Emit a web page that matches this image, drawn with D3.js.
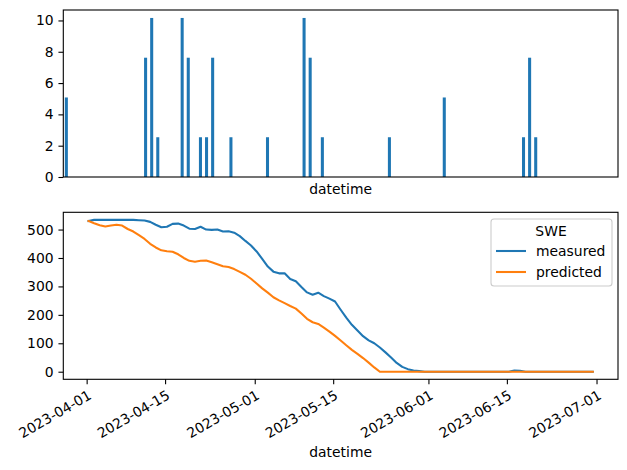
<!DOCTYPE html>
<html lang="en">
  <head>
    <meta charset="utf-8">
    <title>SWE</title>
    <script src="https://d3js.org/d3.v7.js"></script>
    <style>
      body { margin: 0; background: #fff; }
      text { font-family: "DejaVu Sans", sans-serif; font-size: 13.9px; fill: #000; }
    </style>
  </head>
  <body>
    <script>

  // width and height
  var w = 627;
  var h = 470;
  var dayMs = 864e5;

  // daily index, 2023-04-01 .. 2023-06-30 (stamped 08:00 UTC)
  var start = new Date(Date.UTC(2023, 3, 1, 8));
  var dates = d3.range(91).map(i => new Date(+start + i * dayMs));

  // precipitation (top bars)
  var precip = [
    5.08, 0, 0, 0, 0, 0, 0, 0, 0, 0,
    0, 0, 0, 7.62, 10.16, 2.54, 0, 0, 0, 10.16,
    7.62, 0, 2.54, 2.54, 7.62, 0, 0, 2.54, 0, 0,
    0, 0, 0, 2.54, 0, 0, 0, 0, 0, 10.16,
    7.62, 0, 2.54, 0, 0, 0, 0, 0, 0, 0,
    0, 0, 0, 2.54, 0, 0, 0, 0, 0, 0,
    0, 0, 5.08, 0, 0, 0, 0, 0, 0, 0,
    0, 0, 0, 0, 0, 2.54, 7.62, 2.54, 0, 0,
    0, 0, 0, 0, 0, 0, 0, 0, 0, 0,
    0
  ];

  // SWE series
  var measured = [
    530, 534, 534, 534, 534, 534, 534, 534, 534, 533,
    532, 527, 517, 508, 510, 520, 521, 514, 503, 502,
    510, 500, 499, 500, 493, 494, 489, 477, 460, 444,
    423, 397, 370, 352, 346, 346, 326, 318, 298, 279,
    271, 278, 266, 257, 247, 218, 190, 165, 145, 125,
    110, 100, 85, 68, 50, 31, 17, 9, 4, 2,
    0, 0, 0, 0, 0, 0, 0, 0, 0, 0,
    0, 0, 0, 0, 0, 0, 4, 3, 0, 0,
    0, 0, 0, 0, 0, 0, 0, 0, 0, 0,
    0
  ];
  var predicted = [
    530, 522, 515, 511, 514, 517, 514, 502, 493, 480,
    467, 450, 437, 427, 424, 422, 413, 400, 390, 387,
    390, 391, 385, 378, 371, 368, 361, 351, 341, 327,
    310, 293, 278, 262, 251, 241, 231, 222, 205, 186,
    174, 168, 155, 141, 126, 110, 93, 77, 63, 48,
    32, 15, 0, 0, 0, 0, 0, 0, 0, 0,
    0, 0, 0, 0, 0, 0, 0, 0, 0, 0,
    0, 0, 0, 0, 0, 0, 0, 0, 0, 0,
    0, 0, 0, 0, 0, 0, 0, 0, 0, 0,
    0
  ];

  var seriesNames = ["measured", "predicted"];
  var colors = ["#1f77b4", "#ff7f0e"];
  var precipTicks = [0, 2, 4, 6, 8, 10];
  var sweTicks = [0, 100, 200, 300, 400, 500];
  var dateTicks = ["2023-04-01", "2023-04-15", "2023-05-01", "2023-05-15",
                   "2023-06-01", "2023-06-15", "2023-07-01"];

  // axes boxes
  var left = 63.3, right = 618;
  var top1 = 10, bot1 = 177;
  var top2 = 212.3, bot2 = 379.3;
  var tickLen = 4.86, pad = 4.86;

  var svg = d3.select("body")
    .append("svg")
    .attr("width", w)
    .attr("height", h);

  // ---------- top: bars ----------
  var xBand = d3.scaleBand()
    .domain(d3.range(dates.length))
    .range([left, right])
    .paddingInner(0.5)
    .paddingOuter(0.25);

  var pMax = d3.max(precip);
  var yP = d3.scaleLinear()
    .domain([0, pMax * 1.05])
    .range([bot1, top1]);

  svg.append("g")
    .selectAll("rect")
    .data(precip)
    .enter()
    .append("rect")
    .attr("x", (d, i) => xBand(i))
    .attr("y", d => yP(d))
    .attr("width", xBand.bandwidth())
    .attr("height", d => yP(0) - yP(d))
    .attr("fill", colors[0]);

  svg.append("g")
    .attr("transform", "translate(" + left + ",0)")
    .call(d3.axisLeft(yP).tickValues(precipTicks).tickSize(tickLen).tickPadding(pad));

  svg.append("rect")
    .attr("x", left).attr("y", top1)
    .attr("width", right - left).attr("height", bot1 - top1)
    .attr("fill", "none").attr("stroke", "#000").attr("stroke-width", 1.1);

  svg.append("text")
    .attr("x", (left + right) / 2)
    .attr("y", 194)
    .attr("text-anchor", "middle")
    .text("datetime");

  // ---------- bottom: lines ----------
  var x = d3.scaleUtc()
    .domain([new Date(+dates[0] - 4.5 * dayMs), new Date(+dates[dates.length - 1] + 4.5 * dayMs)])
    .range([left, right]);

  var allVals = measured.concat(predicted);
  var lo = d3.min(allVals), hi = d3.max(allVals);
  var m = (hi - lo) * 0.05;
  var y = d3.scaleLinear()
    .domain([lo - m, hi + m])
    .range([bot2, top2]);

  var line = d3.line()
    .x((d, i) => x(dates[i]))
    .y(d => y(d));

  [measured, predicted].forEach(function (s, k) {
    svg.append("path")
      .datum(s)
      .attr("d", line)
      .attr("fill", "none")
      .attr("stroke", colors[k])
      .attr("stroke-width", 2.08)
      .attr("stroke-linejoin", "round")
      .attr("stroke-linecap", "square");
  });

  svg.append("g")
    .attr("transform", "translate(" + left + ",0)")
    .call(d3.axisLeft(y).tickValues(sweTicks).tickSize(tickLen).tickPadding(pad));

  var xAxis = svg.append("g")
    .attr("transform", "translate(0," + bot2 + ")")
    .call(d3.axisBottom(x)
      .tickValues(dateTicks.map(d => new Date(d + "T00:00:00Z")))
      .tickSize(tickLen)
      .tickFormat(d3.utcFormat("%Y-%m-%d")));

  xAxis.selectAll("text")
    .attr("text-anchor", "end")
    .attr("y", 0)
    .attr("dy", "0.76em")
    .attr("transform", "translate(0," + (tickLen + pad) + ") rotate(-30)");

  svg.append("rect")
    .attr("x", left).attr("y", top2)
    .attr("width", right - left).attr("height", bot2 - top2)
    .attr("fill", "none").attr("stroke", "#000").attr("stroke-width", 1.1);

  svg.append("text")
    .attr("x", (left + right) / 2)
    .attr("y", 457)
    .attr("text-anchor", "middle")
    .text("datetime");

  // common axis styling
  svg.selectAll(".domain").remove();
  svg.selectAll(".tick line").attr("stroke", "#000").attr("stroke-width", 1.1);
  svg.selectAll(".tick text").style("font-family", "DejaVu Sans").style("font-size", "13.9px");

  // legend
  var lg = svg.append("g");
  lg.append("rect")
    .attr("x", 491).attr("y", 219)
    .attr("width", 121).attr("height", 67)
    .attr("rx", 3)
    .attr("fill", "#fff").attr("fill-opacity", 0.8)
    .attr("stroke", "#cccccc").attr("stroke-width", 1.1);
  lg.append("text")
    .attr("x", 551).attr("y", 236)
    .attr("text-anchor", "middle")
    .text("SWE");
  seriesNames.forEach(function (n, k) {
    var yy = 251 + k * 21;
    lg.append("line")
      .attr("x1", 496).attr("x2", 526)
      .attr("y1", yy).attr("y2", yy)
      .attr("stroke", colors[k]).attr("stroke-width", 2.08);
    lg.append("text")
      .attr("x", 536).attr("y", yy + 5)
      .text(n);
  });

    </script>
  </body>
</html>
